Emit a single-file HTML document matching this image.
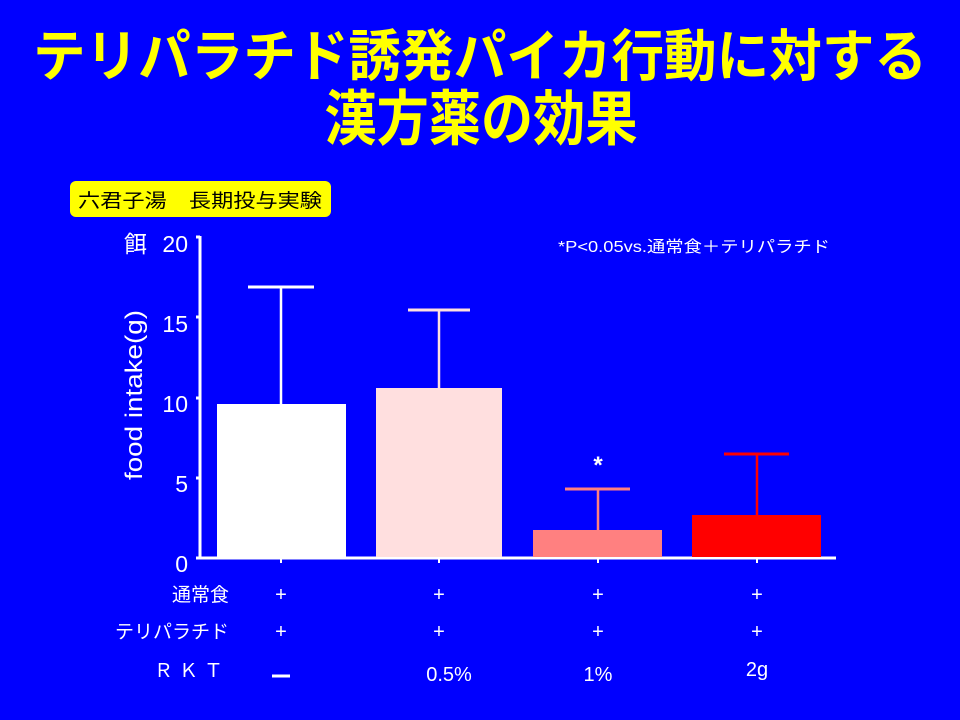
<!DOCTYPE html>
<html><head><meta charset="utf-8"><style>
html,body{margin:0;padding:0;background:#0000ff;}
svg{display:block;}
</style></head><body>
<svg width="960" height="720" xmlns="http://www.w3.org/2000/svg" font-family="'Liberation Sans','Noto Sans CJK JP',sans-serif">
<rect width="960" height="720" fill="#0000ff"/>
<text x="480" y="76" font-size="56" font-weight="bold" fill="#ffff00" text-anchor="middle" textLength="894" lengthAdjust="spacingAndGlyphs">テリパラチド誘発パイカ行動に対する</text>
<text x="481" y="140" font-size="60" font-weight="bold" fill="#ffff00" text-anchor="middle" textLength="313" lengthAdjust="spacingAndGlyphs">漢方薬の効果</text>
<rect x="70" y="181" width="261" height="36" rx="6" fill="#ffff00"/>
<text x="200" y="207" font-size="19" fill="#000" text-anchor="middle" textLength="244" lengthAdjust="spacingAndGlyphs">六君子湯　長期投与実験</text>
<text x="558" y="252" font-size="16" fill="#fff" textLength="272" lengthAdjust="spacingAndGlyphs">*P&lt;0.05vs.通常食＋テリパラチド</text>
<g stroke="#fff" stroke-width="3" fill="none">
<line x1="200" y1="236" x2="200" y2="559"/>
<line x1="196" y1="558" x2="836" y2="558"/>
<line x1="196" y1="237" x2="200" y2="237"/>
<line x1="196" y1="317" x2="200" y2="317"/>
<line x1="196" y1="398" x2="200" y2="398"/>
<line x1="196" y1="478" x2="200" y2="478"/>
<line x1="281" y1="558" x2="281" y2="563" stroke-width="2"/>
<line x1="439" y1="558" x2="439" y2="563" stroke-width="2"/>
<line x1="598" y1="558" x2="598" y2="563" stroke-width="2"/>
<line x1="757" y1="558" x2="757" y2="563" stroke-width="2"/>
</g>
<g font-size="23" fill="#fff" text-anchor="end">
<text x="188" y="252">20</text>
<text x="188" y="332">15</text>
<text x="188" y="412">10</text>
<text x="188" y="492">5</text>
<text x="188" y="572">0</text>
<text x="147" y="252">餌</text>
</g>
<text transform="translate(142,395) rotate(-90)" font-size="24" fill="#fff" text-anchor="middle" textLength="170" lengthAdjust="spacingAndGlyphs">food intake(g)</text>
<rect x="217" y="404" width="129" height="153" fill="#fff"/>
<line x1="281" y1="404" x2="281" y2="287" stroke="#fff" stroke-width="2.5"/>
<line x1="248" y1="287" x2="314" y2="287" stroke="#fff" stroke-width="3"/>
<rect x="376" y="388" width="126" height="169" fill="#ffdfdf"/>
<line x1="439" y1="388" x2="439" y2="310" stroke="#ffdfdf" stroke-width="2.5"/>
<line x1="408" y1="310" x2="470" y2="310" stroke="#ffdfdf" stroke-width="3"/>
<rect x="533" y="530" width="129" height="27" fill="#ff8080"/>
<line x1="598" y1="530" x2="598" y2="489" stroke="#ff8080" stroke-width="2.5"/>
<line x1="565" y1="489" x2="630" y2="489" stroke="#ff8080" stroke-width="3"/>
<rect x="692" y="515" width="129" height="42" fill="#ff0000"/>
<line x1="757" y1="515" x2="757" y2="454" stroke="#ff0000" stroke-width="2.5"/>
<line x1="724" y1="454" x2="789" y2="454" stroke="#ff0000" stroke-width="3"/>
<text x="598" y="473" font-size="24" font-weight="bold" fill="#fff" text-anchor="middle">*</text>
<g font-size="19" fill="#fff">
<text x="229" y="601" text-anchor="end">通常食</text>
<text x="229" y="638" text-anchor="end">テリパラチド</text>
<text x="229" y="677" text-anchor="end" letter-spacing="6">ＲＫＴ</text>
</g>
<g font-size="20" fill="#fff" text-anchor="middle">
<text x="281" y="601">+</text><text x="439" y="601">+</text><text x="598" y="601">+</text><text x="757" y="601">+</text>
<text x="281" y="638">+</text><text x="439" y="638">+</text><text x="598" y="638">+</text><text x="757" y="638">+</text>
<text x="449" y="681">0.5%</text><text x="598" y="681">1%</text><text x="757" y="676">2g</text>
</g>
<line x1="272" y1="676" x2="290" y2="676" stroke="#fff" stroke-width="3"/>
</svg>
</body></html>
